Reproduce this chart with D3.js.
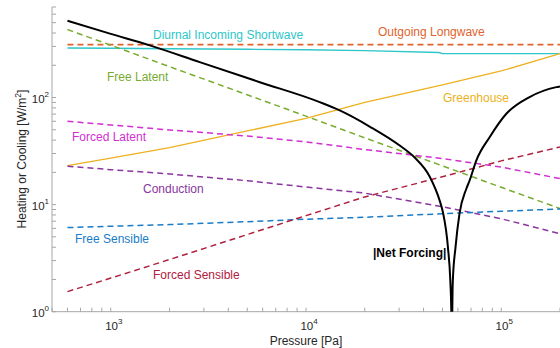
<!DOCTYPE html>
<html>
<head>
<meta charset="utf-8">
<script src="https://cdn.jsdelivr.net/npm/d3@7"></script>
<style>
  body { margin: 0; background: #fff; }
  svg { display: block; font-family: "Liberation Sans", Arial, Helvetica, sans-serif; }
</style>
</head>
<body>
<div id="chart"></div>
<script>
"use strict"

// pressures [Pa] at which the flux curves were read
const pressures = [600, 1000, 2000, 5000, 1e4, 2e4, 5e4, 1e5, 2e5]

// fluxes [W/m^2]
const outgoingLongwave = [312, 312, 312, 312, 312, 312, 312, 312, 312]
const freeLatent       = [431, 308, 194, 106, 67, 42, 23, 14.5, 9.2]
const greenhouse       = [23.1, 27.2, 34.1, 48.7, 63.7, 90, 131, 177, 257]
const forcedLatent     = [60, 55.4, 49.8, 43.7, 38.5, 32.7, 26.9, 22.4, 17.5]
const conduction       = [22.8, 21.2, 19.3, 16.7, 14.6, 12.8, 9.55, 7.38, 5.34]
const freeSensible     = [6.1, 6.28, 6.51, 6.92, 7.3, 7.62, 8.22, 8.67, 9.1]
const forcedSensible   = [1.54, 2.06, 3.07, 5.25, 7.89, 11.8, 18.2, 25.6, 34.5]

// shortwave has a small step near 5e4 Pa, read on its own grid
const swPressures = [600, 1000, 2000, 5000, 1e4, 2e4, 4.8e4, 5e4, 1e5, 2e5]
const shortwave   = [290, 288, 285, 282, 279, 274, 263, 257, 257, 257]

// |net forcing|, read on a finer grid around the dip
const netPressures = [600, 1000, 1585, 2856, 5800, 11750, 14890, 21180, 30200, 36030, 42980, 48380,
  50300, 53350, 54850, 55500, 55800, 56150, 56500, 58300, 61100, 66200, 68800, 74500, 87200,
  106200, 139700, 191400, 2e5]
const netForcing = [520, 393, 307, 214, 139, 90.6, 75.7, 53.6, 35.6, 27.5, 18.3, 10.9,
  8.45, 3.97, 1.94, 1.0, 0.2, 1.0, 1.94, 3.97, 8.2, 14.0, 16.7, 25.8, 42.6,
  70.5, 101, 125, 127]

const xTickExps = [3, 4, 5]
const yTickExps = [0, 1, 2]

const width = 560
const height = 348
const margin = { top: 7, right: 0, bottom: 37, left: 52 }

const svg = d3.select("#chart").append("svg")
  .attr("width", width)
  .attr("height", height)

const x = d3.scaleLog().domain([500, 2e5]).range([margin.left, width - margin.right])
const y = d3.scaleLog().domain([1, 700]).range([height - margin.bottom + 0.7, margin.top])

svg.append("clipPath")
  .attr("id", "plotClip")
  .append("rect")
    .attr("x", margin.left)
    .attr("y", margin.top)
    .attr("width", width - margin.left - margin.right)
    .attr("height", y(1) - margin.top)

const axisColor = "#a6a6a6"
const textColor = "#262626"

// axes (MATLAB style: ticks pointing inwards, no box)
const xAxis = svg.append("g").attr("transform", `translate(0, ${y(1)})`)
xAxis.append("line")
  .attr("x1", margin.left).attr("x2", width)
  .attr("stroke", axisColor)

let xTicks = []
for (let e = 2; e <= 5; e++) {
  for (let m = 1; m <= 9; m++) {
    let v = m * Math.pow(10, e)
    if (v >= 500 && v <= 2e5) xTicks.push(v)
  }
}
xAxis.selectAll("line.tick")
  .data(xTicks)
  .enter()
    .append("line")
    .attr("class", "tick")
    .attr("x1", (d) => x(d)).attr("x2", (d) => x(d))
    .attr("y1", 0).attr("y2", -4)
    .attr("stroke", axisColor)

const yAxis = svg.append("g").attr("transform", `translate(${margin.left}, 0)`)
yAxis.append("line")
  .attr("y1", margin.top).attr("y2", y(1))
  .attr("stroke", axisColor)

let yTicks = []
for (let e = 0; e <= 2; e++) {
  for (let m = 1; m <= 9; m++) {
    let v = m * Math.pow(10, e)
    if (v <= 700) yTicks.push(v)
  }
}
yAxis.selectAll("line.tick")
  .data(yTicks)
  .enter()
    .append("line")
    .attr("class", "tick")
    .attr("y1", (d) => y(d)).attr("y2", (d) => y(d))
    .attr("x1", 0).attr("x2", 4)
    .attr("stroke", axisColor)

function powerLabel(sel, exp) {
  sel.append("tspan").text("10")
  sel.append("tspan")
    .attr("dy", -6)
    .attr("font-size", "8px")
    .text(exp)
}

xTickExps.forEach((e) => {
  svg.append("text")
    .attr("x", x(Math.pow(10, e)) + 3)
    .attr("y", 330)
    .attr("text-anchor", "middle")
    .attr("font-size", "11.5px")
    .attr("fill", textColor)
    .call(powerLabel, e)
})

yTickExps.forEach((e) => {
  svg.append("text")
    .attr("x", 49)
    .attr("y", y(Math.pow(10, e)) + 5)
    .attr("text-anchor", "end")
    .attr("font-size", "11.5px")
    .attr("fill", textColor)
    .call(powerLabel, e)
})

svg.append("text")
  .attr("x", 306)
  .attr("y", 345)
  .attr("text-anchor", "middle")
  .attr("font-size", "12px")
  .attr("fill", textColor)
  .text("Pressure [Pa]")

let yLabel = svg.append("text")
  .attr("transform", `translate(26, 159) rotate(-90)`)
  .attr("text-anchor", "middle")
  .attr("font-size", "12px")
  .attr("fill", textColor)
yLabel.append("tspan").text("Heating or Cooling [W/m")
yLabel.append("tspan").attr("dy", -5).attr("font-size", "8.5px").text("2")
yLabel.append("tspan").attr("dy", 5).text("]")

// series
const series = [
  { name: "Diurnal Incoming Shortwave", p: swPressures, v: shortwave, color: "#2ec6c9", dash: null, width: 1.4,
    label: [153, 39] },
  { name: "Outgoing Longwave", p: pressures, v: outgoingLongwave, color: "#e0632c", dash: "6 4", width: 1.7,
    label: [378, 36] },
  { name: "Free Latent", p: pressures, v: freeLatent, color: "#77ac30", dash: "6 4", width: 1.5,
    label: [107, 81] },
  { name: "Greenhouse", p: pressures, v: greenhouse, color: "#edb120", dash: null, width: 1.3,
    label: [443, 102] },
  { name: "Forced Latent", p: pressures, v: forcedLatent, color: "#d22fd0", dash: "6 4", width: 1.5,
    label: [72, 141] },
  { name: "Conduction", p: pressures, v: conduction, color: "#8a35a0", dash: "6 4", width: 1.5,
    label: [143, 193] },
  { name: "Free Sensible", p: pressures, v: freeSensible, color: "#1a7cc6", dash: "6 4", width: 1.5,
    label: [75, 243] },
  { name: "Forced Sensible", p: pressures, v: forcedSensible, color: "#b0203e", dash: "6 4", width: 1.5,
    label: [153, 279] },
]

const plot = svg.append("g").attr("clip-path", "url(#plotClip)")

const line = d3.line()
  .x((d) => x(d[0]))
  .y((d) => y(d[1]))

series.forEach((s) => {
  plot.append("path")
    .datum(s.p.map((p, i) => [p, s.v[i]]))
    .attr("fill", "none")
    .attr("stroke", s.color)
    .attr("stroke-width", s.width)
    .attr("stroke-dasharray", s.dash)
    .attr("d", line)

  svg.append("text")
    .attr("x", s.label[0])
    .attr("y", s.label[1])
    .attr("font-size", "12px")
    .attr("fill", s.color)
    .text(s.name)
})

plot.append("path")
  .datum(netPressures.map((p, i) => [p, netForcing[i]]))
  .attr("fill", "none")
  .attr("stroke", "#000")
  .attr("stroke-width", 2)
  .attr("d", line.curve(d3.curveMonotoneX))

svg.append("text")
  .attr("x", 373)
  .attr("y", 257)
  .attr("font-size", "12px")
  .attr("font-weight", "bold")
  .attr("fill", "#000")
  .text("|Net Forcing|")
</script>
</body>
</html>
